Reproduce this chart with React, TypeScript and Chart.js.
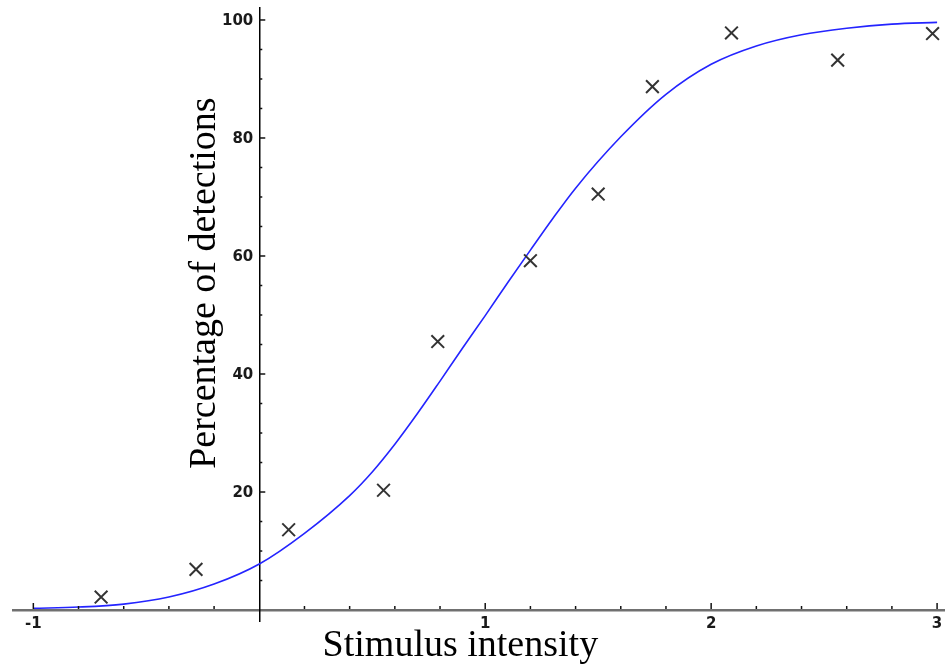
import React, { useEffect, useRef } from 'react';
import { Chart, registerables } from 'chart.js';

Chart.register(...registerables);

// Fitted psychometric curve
const curveX = [-1, -0.8, -0.6, -0.4, -0.2, 0, 0.2, 0.4, 0.5, 0.6, 0.7, 0.8, 0.9, 1.0, 1.1, 1.2, 1.3, 1.4, 1.6, 1.8, 2.0, 2.2, 2.4, 2.6, 2.8, 3.0];
const curveY = [0.3, 0.5, 1.0, 2.2, 4.4, 7.8, 13.0, 19.4, 23.4, 28.1, 33.3, 38.8, 44.4, 49.9, 55.5, 61.0, 66.4, 71.5, 80.2, 87.4, 92.5, 95.6, 97.5, 98.6, 99.3, 99.6];

// Observed detections
const obsX = [-0.7, -0.28, 0.13, 0.55, 0.79, 1.2, 1.5, 1.74, 2.09, 2.56, 2.98];
const obsY = [2.2, 6.9, 13.6, 20.3, 45.5, 59.2, 70.5, 88.7, 97.8, 93.2, 97.7];

// Tick labels and tick marks
const xTickValues = [-1, 1, 2, 3];
const yTickValues = [20, 40, 60, 80, 100];
const xMinorTicks = [-1, -0.8, -0.6, -0.4, -0.2, 0.2, 0.4, 0.6, 0.8, 1, 1.2, 1.4, 1.6, 1.8, 2, 2.2, 2.4, 2.6, 2.8, 3];
const yMinorTicks = [5, 10, 15, 20, 25, 30, 35, 40, 45, 50, 55, 60, 65, 70, 75, 80, 85, 90, 95, 100];

const xTitle = 'Stimulus intensity';
const yTitle = 'Percentage of detections';

const axisDecor = {
  id: 'axisDecor',
  afterDraw(chart: any) {
    const { ctx, scales } = chart;
    const xs = scales.x;
    const ys = scales.y;
    const axisX = xs.getPixelForValue(0);
    const axisY = ys.getPixelForValue(0);
    ctx.save();
    ctx.strokeStyle = '#111';
    ctx.lineWidth = 1.5;
    xMinorTicks.forEach((v) => {
      const px = xs.getPixelForValue(v);
      const major = Math.abs(v - Math.round(v)) < 1e-6;
      const len = major ? 6 : 3;
      ctx.beginPath();
      ctx.moveTo(px, axisY - 1);
      ctx.lineTo(px, axisY - 1 - len);
      ctx.stroke();
    });
    yMinorTicks.forEach((v) => {
      const py = ys.getPixelForValue(v);
      const major = v % 20 === 0;
      const len = major ? 6 : 3;
      ctx.beginPath();
      ctx.moveTo(axisX, py);
      ctx.lineTo(axisX + len, py);
      ctx.stroke();
    });

    // tick labels
    ctx.fillStyle = '#1a1a1a';
    ctx.font = 'bold 15px "DejaVu Sans"';
    ctx.textAlign = 'center';
    ctx.textBaseline = 'top';
    xTickValues.forEach((v) => {
      ctx.fillText(String(v), xs.getPixelForValue(v), axisY + 7);
    });
    ctx.textAlign = 'right';
    ctx.textBaseline = 'middle';
    yTickValues.forEach((v) => {
      ctx.fillText(String(v), axisX - 6, ys.getPixelForValue(v) + 1);
    });

    // axis titles
    ctx.fillStyle = '#000';
    ctx.font = '38px "Liberation Serif"';
    ctx.textAlign = 'center';
    ctx.textBaseline = 'alphabetic';
    ctx.fillText(xTitle, xs.getPixelForValue(0.89), chart.chartArea.bottom + 35);
    ctx.translate(xs.getPixelForValue(-0.195), ys.getPixelForValue(55.4));
    ctx.rotate(-Math.PI / 2);
    ctx.fillText(yTitle, 0, 0);
    ctx.restore();
  },
};

export default function App() {
  const canvasRef = useRef<HTMLCanvasElement | null>(null);

  useEffect(() => {
    if (!canvasRef.current) return;
    const chart = new Chart(canvasRef.current, {
      type: 'scatter',
      data: {
        datasets: [
          {
            label: 'fit',
            data: curveX.map((x, i) => ({ x, y: curveY[i] })),
            showLine: true,
            borderColor: '#2424ff',
            borderWidth: 1.6,
            pointRadius: 0,
            cubicInterpolationMode: 'monotone',
            order: 2,
          } as any,
          {
            label: 'observed',
            data: obsX.map((x, i) => ({ x, y: obsY[i] })),
            showLine: false,
            pointStyle: 'crossRot',
            pointRadius: 9,
            borderColor: '#333',
            borderWidth: 2,
            order: 1,
            clip: false,
          } as any,
        ],
      },
      options: {
        animation: false,
        responsive: false,
        devicePixelRatio: 1,
        layout: { autoPadding: false, padding: { left: 13, right: 0, top: 8, bottom: 43 } },
        plugins: { legend: { display: false }, tooltip: { enabled: false } },
        scales: {
          x: {
            type: 'linear',
            position: { y: 0 } as any,
            min: -1.09,
            max: 3.035,
            grid: { display: false, drawTicks: false },
            border: { display: true, color: '#707070', width: 2.5 },
            ticks: { display: false },
          },
          y: {
            type: 'linear',
            position: { x: 0 } as any,
            min: -1.86,
            max: 102.03,
            grid: { display: false, drawTicks: false },
            border: { display: true, color: '#000', width: 1.5 },
            ticks: { display: false },
          },
        },
      },
      plugins: [axisDecor],
    } as any);
    return () => chart.destroy();
  }, []);

  return (
    <div style={{ position: 'absolute', left: 0, top: 0, width: 945, height: 664, background: '#fff' }}>
      <canvas ref={canvasRef} width={945} height={664} style={{ display: 'block' }} />
    </div>
  );
}
